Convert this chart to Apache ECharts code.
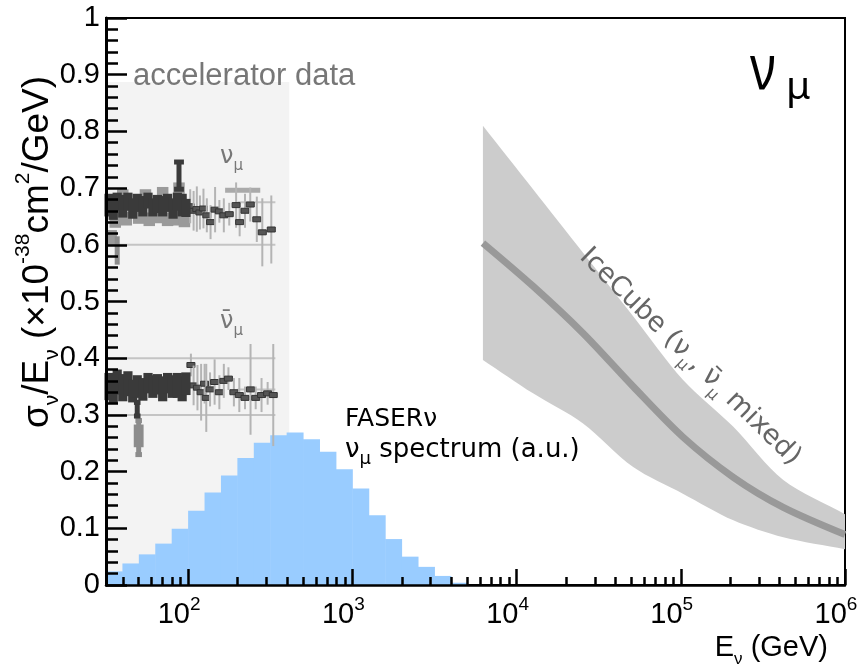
<!DOCTYPE html>
<html><head><meta charset="utf-8">
<script src="https://cdn.jsdelivr.net/npm/echarts@6/dist/echarts.min.js"></script>
<style>html,body{margin:0;padding:0;background:#fff}#c{width:863px;height:667px}</style>
</head><body><div id="c"></div>
<script>
// ---------------- data ----------------
const xMinLog = 1.5, xMaxLog = 6;            // log10(E/GeV) range
const xMajorPowers = [2, 3, 4, 5, 6];
const yMin = 0, yMax = 1, yStep = 0.1;

// FASERnu nu_mu spectrum (a.u.), bins of 0.1 in log10(E)
const faserBinLowLog = [1.5,1.6,1.7,1.8,1.9,2.0,2.1,2.2,2.3,2.4,2.5,2.6,2.7,2.8,2.9,3.0,3.1,3.2,3.3,3.4,3.5,3.6];
const faserHeights   = [0.024,0.038,0.054,0.073,0.099,0.131,0.163,0.193,0.224,0.251,0.264,0.269,0.257,0.235,0.204,0.170,0.123,0.081,0.050,0.032,0.016,0.004];

// IceCube
const icecubeE       = [6240, 12600, 25400, 51300, 103000, 209000, 421000, 1000000];
const icecubeCentral = [0.603, 0.527, 0.444, 0.350, 0.261, 0.190, 0.137, 0.089];
const icecubeUpper   = [0.810, 0.698, 0.586, 0.474, 0.362, 0.279, 0.185, 0.125];
const icecubeLower   = [0.397, 0.338, 0.285, 0.208, 0.161, 0.114, 0.084, 0.063];

// accelerator-data region
const accelRegionE = [31.6, 413];
const accelRegionTop = 0.887;

// accelerator nu_mu data  [E (GeV), sigma/E, half-size]
const nuBoxDark = [[33,0.670,0.020],[35,0.662,0.018],[37,0.676,0.016],[40,0.668,0.020],[43,0.676,0.016],[46,0.664,0.018],[49,0.674,0.016],[53,0.668,0.018],[57,0.678,0.014],[61,0.666,0.016],[65,0.672,0.016],[70,0.668,0.018],[75,0.674,0.016],[81,0.664,0.018],[86,0.676,0.016],[92,0.670,0.020],[97,0.665,0.016]];
const nuBoxGray = [[34,0.612,0.014],[36,0.652,0.022],[42,0.646,0.012],[50,0.652,0.015],[58,0.645,0.012],[66,0.650,0.012],[75,0.645,0.012],[84,0.650,0.016],[95,0.645,0.014],[40,0.690,0.008],[55,0.690,0.008],[70,0.692,0.010],[88,0.700,0.010]];
const nuBarGray = [[37,0.590,0.025]];
const nuBarDark = [[88,0.722,0.024]];
const nuPoints = [[103,0.668,0.030],[108,0.660,0.035],[113,0.663,0.040],[118,0.657,0.030],[124,0.664,0.035],[130,0.652,0.030],[137,0.640,0.030],[146,0.662,0.040],[155,0.659,0.020],[165,0.652,0.030],[178,0.654,0.020],[196,0.670,0.040],[206,0.640,0.025],[222,0.660,0.030],[239,0.671,0.030],[262,0.645,0.040],[283,0.622,0.060],[321,0.627,0.060]];
const nuHBar = [[168,275,0.696]];

// accelerator anti-nu_mu data
const anuBoxDark = [[33,0.350,0.024],[35,0.345,0.024],[37,0.358,0.022],[40,0.348,0.024],[43,0.355,0.022],[46,0.342,0.020],[49,0.350,0.020],[53,0.345,0.020],[57,0.356,0.018],[61,0.350,0.020],[65,0.354,0.018],[70,0.346,0.022],[75,0.356,0.018],[80,0.350,0.020],[86,0.352,0.022],[92,0.346,0.022],[97,0.355,0.020]];
const anuBoxGray = [[50,0.263,0.020]];
const anuBarGray = [[50,0.260,0.030]];
const anuBarDark = [[49,0.310,0.012]];
const anuPoints = [[104,0.388,0.020],[108,0.352,0.035],[114,0.348,0.040],[120,0.340,0.050],[126,0.355,0.035],[129,0.330,0.060],[136,0.345,0.030],[145,0.358,0.040],[155,0.340,0.030],[165,0.360,0.030],[176,0.364,0.020],[190,0.340,0.025],[205,0.335,0.030],[222,0.330,0.020],[240,0.345,0.080],[258,0.330,0.020],[280,0.335,0.030],[305,0.338,0.020],[330,0.335,0.090]];

// reference (average) lines [E1, E2, value]
const refLines = [[31.6,340,0.600],[200,340,0.675],[31.6,340,0.400],[31.6,340,0.300],[200,340,0.345]];

// ---------------- helpers ----------------
const L = v => Math.log10(v);
const toLog = arr => arr.map(r => [L(r[0]), r[1], r[2]]);
const minorTicks = [];
for (let d = 1; d <= 5; d++) for (let k = 2; k <= 9; k++) {
  const v = d + Math.log10(k);
  if (v > xMinLog && v < xMaxLog) minorTicks.push(v);
}
const FONT = 'Liberation Sans';

function boxRender(color, halfDec) {
  return function (params, api) {
    const x = api.value(0), v = api.value(1), e = api.value(2);
    const p1 = api.coord([x - halfDec, v + e]);
    const p2 = api.coord([x + halfDec, v - e]);
    return {type: 'rect', shape: {x: p1[0], y: p1[1], width: p2[0] - p1[0], height: p2[1] - p1[1]},
            style: {fill: color}};
  };
}
function barRender(color, halfDec, width) {
  return function (params, api) {
    const x = api.value(0), v = api.value(1), e = api.value(2);
    const t = api.coord([x, v + e]), b = api.coord([x, v - e]);
    const tl = api.coord([x - halfDec, v + e]), tr = api.coord([x + halfDec, v + e]);
    const bl = api.coord([x - halfDec, v - e]), br = api.coord([x + halfDec, v - e]);
    return {type: 'group', children: [
      {type: 'line', shape: {x1: t[0], y1: t[1], x2: b[0], y2: b[1]}, style: {stroke: color, lineWidth: width}},
      {type: 'line', shape: {x1: tl[0], y1: tl[1], x2: tr[0], y2: tr[1]}, style: {stroke: color, lineWidth: 5}},
      {type: 'line', shape: {x1: bl[0], y1: bl[1], x2: br[0], y2: br[1]}, style: {stroke: color, lineWidth: 5}}
    ]};
  };
}
function pointRender(params, api) {
  const x = api.value(0), v = api.value(1), e = api.value(2);
  const t = api.coord([x, v + e]), b = api.coord([x, v - e]), c = api.coord([x, v]);
  return {type: 'group', children: [
    {type: 'line', shape: {x1: t[0], y1: t[1], x2: b[0], y2: b[1]}, style: {stroke: '#b4b4b4', lineWidth: 2}},
    {type: 'rect', shape: {x: c[0] - 4, y: c[1] - 2.5, width: 8, height: 5}, style: {fill: '#555', stroke: '#333', lineWidth: 1}}
  ]};
}
function hlineRender(color, width) {
  return function (params, api) {
    const a = api.coord([api.value(0), api.value(2)]), b = api.coord([api.value(1), api.value(2)]);
    return {type: 'line', shape: {x1: a[0], y1: a[1], x2: b[0], y2: b[1]}, style: {stroke: color, lineWidth: width}};
  };
}
function custom(data, renderItem, z, encode) {
  return {type: 'custom', xAxisIndex: 0, yAxisIndex: 0, data: data, renderItem: renderItem, z: z,
          encode: encode || {x: 0, y: 1}, silent: true, animation: false};
}

// ---------------- series ----------------
const series = [];
series.push(custom([[L(accelRegionE[0]), L(accelRegionE[1]), accelRegionTop]], function (p, api) {
  const a = api.coord([api.value(0), api.value(2)]), b = api.coord([api.value(1), 0]);
  return {type: 'rect', shape: {x: a[0], y: a[1], width: b[0] - a[0], height: b[1] - a[1]}, style: {fill: '#f3f3f3'}};
}, 1, {x: [0, 1], y: 2}));
series.push(custom(faserBinLowLog.map((lo, i) => [lo, lo + 0.1, faserHeights[i]]), function (p, api) {
  const a = api.coord([api.value(0), api.value(2)]), b = api.coord([api.value(1), 0]);
  return {type: 'rect', shape: {x: a[0], y: a[1], width: b[0] - a[0] + 0.5, height: b[1] - a[1]}, style: {fill: '#99ccff'}};
}, 2, {x: [0, 1], y: 2}));
series.push(custom(refLines.map(r => [L(r[0]), L(r[1]), r[2]]), hlineRender('#c4c4c4', 2), 3, {x: [0, 1], y: 2}));
series.push(custom(nuHBar.map(r => [L(r[0]), L(r[1]), r[2]]), hlineRender('#aaaaaa', 5), 3, {x: [0, 1], y: 2}));
series.push(custom(toLog(nuBoxGray), boxRender('#9a9a9a', 0.035), 4));
series.push(custom(toLog(anuBoxGray), boxRender('#8c8c8c', 0.03), 4));
series.push(custom(toLog(nuBarGray), barRender('#8c8c8c', 0.0, 5), 4));
series.push(custom(toLog(anuBarGray), barRender('#8c8c8c', 0.02, 5), 4));
series.push(custom(toLog(nuPoints), pointRender, 5));
series.push(custom(toLog(anuPoints), pointRender, 5));
series.push(custom(toLog(nuBoxDark), boxRender('#3a3a3a', 0.028), 6));
series.push(custom(toLog(anuBoxDark), boxRender('#3a3a3a', 0.028), 6));
series.push(custom(toLog(nuBarDark), barRender('#3a3a3a', 0.03, 5), 6));
series.push(custom(toLog(anuBarDark), barRender('#3a3a3a', 0.02, 5), 6));
// IceCube band (smooth edges, sharp corners via duplicated corner vertices)
series.push(custom([[L(icecubeE[0]), icecubeCentral[0]]], function (p, api) {
  const up = icecubeE.map((e, i) => api.coord([L(e), icecubeUpper[i]]));
  const lo = icecubeE.map((e, i) => api.coord([L(e), icecubeLower[i]])).reverse();
  const pts = [up[0]].concat(up, [up[up.length - 1]], [lo[0]], lo, [lo[lo.length - 1]]);
  return {type: 'polygon', shape: {points: pts, smooth: 0.3}, style: {fill: '#cccccc'}};
}, 7));
series.push({type: 'line', xAxisIndex: 0, yAxisIndex: 0, z: 8, smooth: 0.3, showSymbol: false, silent: true,
  data: icecubeE.map((e, i) => [L(e), icecubeCentral[i]]),
  lineStyle: {color: '#999999', width: 7}});

// ---------------- chart ----------------
const chart = echarts.init(document.getElementById('c'));
chart.setOption({
  animation: false,
  backgroundColor: '#ffffff',
  grid: {left: 106, right: 18, top: 18, bottom: 82, show: true, borderColor: '#000', borderWidth: 2, backgroundColor: 'transparent'},
  xAxis: [{
    type: 'value', min: xMinLog, max: xMaxLog, position: 'bottom', z: 20,
    axisLine: {show: true, onZero: false, lineStyle: {color: '#000', width: 2.5}},
    axisTick: {show: true, inside: true, length: 16, customValues: xMajorPowers, lineStyle: {color: '#000', width: 2.5}},
    axisLabel: {show: true, customValues: xMajorPowers, margin: 10, padding: [0, 18, 0, 0],
      formatter: v => '{b|10}{sup|' + v + '}',
      rich: {b: {fontFamily: FONT, fontSize: 29, color: '#000', lineHeight: 40},
             sup: {fontFamily: FONT, fontSize: 19, color: '#000', lineHeight: 20, verticalAlign: 'top'}}},
    splitLine: {show: false}
  }, {
    type: 'value', min: xMinLog, max: xMaxLog, position: 'bottom', gridIndex: 0, z: 20,
    axisLine: {show: false},
    axisTick: {show: true, inside: true, length: 8, customValues: minorTicks, lineStyle: {color: '#000', width: 2.5}},
    axisLabel: {show: false}, splitLine: {show: false}
  }],
  yAxis: {
    type: 'value', min: yMin, max: yMax, interval: yStep, z: 20,
    axisLine: {show: true, onZero: false, lineStyle: {color: '#000', width: 3}},
    axisTick: {show: true, inside: true, length: 21, lineStyle: {color: '#000', width: 2.5}},
    minorTick: {show: true, splitNumber: 5, length: 12, lineStyle: {color: '#000', width: 2.5}},
    axisLabel: {fontFamily: FONT, fontSize: 29, color: '#000', margin: 6,
      formatter: v => (v === 0 ? '0' : (Math.abs(v - 1) < 1e-9 ? '1' : v.toFixed(1)))},
    splitLine: {show: false}, minorSplitLine: {show: false}
  },
  series: series,
  graphic: [
    {type: 'text', x: 38, y: 252, rotation: Math.PI / 2, z: 100,
      style: {text: '{n|σ}{sub|ν}{n|/E}{sub|ν}{n| (×10}{sup|-38}{n|cm}{sup|2}{n|/GeV)}',
        align: 'center', verticalAlign: 'middle',
        rich: {n: {fontFamily: FONT, fontSize: 37, fill: '#000', lineHeight: 50},
               sub: {fontFamily: FONT, fontSize: 21, fill: '#000', lineHeight: 21, verticalAlign: 'bottom'},
               sup: {fontFamily: FONT, fontSize: 21, fill: '#000', lineHeight: 21, verticalAlign: 'top'}}}},
    {type: 'text', x: 828, y: 648, z: 100,
      style: {text: '{n|E}{sub|ν}{n| (GeV)}', align: 'right', verticalAlign: 'middle',
        rich: {n: {fontFamily: FONT, fontSize: 29, fill: '#000', lineHeight: 40},
               sub: {fontFamily: FONT, fontSize: 17, fill: '#000', lineHeight: 17, verticalAlign: 'bottom'}}}},
    {type: 'text', x: 133, y: 76, z: 100,
      style: {text: 'accelerator data', fontFamily: FONT, fontSize: 31, fill: '#777777', align: 'left', verticalAlign: 'middle'}},
    {type: 'text', x: 220, y: 157, z: 100,
      style: {text: '{n|ν}{sub|μ}', align: 'left', verticalAlign: 'middle',
        rich: {n: {fontFamily: 'DejaVu Sans', fontSize: 24, fill: '#777', lineHeight: 34},
               sub: {fontFamily: 'DejaVu Sans', fontSize: 15, fill: '#777', lineHeight: 15, verticalAlign: 'bottom'}}}},
    {type: 'text', x: 220, y: 322, z: 100,
      style: {text: '{n|ν\u0304}{sub|μ}', align: 'left', verticalAlign: 'middle',
        rich: {n: {fontFamily: 'DejaVu Sans', fontSize: 24, fill: '#777', lineHeight: 34},
               sub: {fontFamily: 'DejaVu Sans', fontSize: 15, fill: '#777', lineHeight: 15, verticalAlign: 'bottom'}}}},
    {type: 'text', x: 345, y: 419, z: 100,
      style: {text: 'FASERν', fontFamily: 'DejaVu Sans', fontSize: 25, fill: '#000', align: 'left', verticalAlign: 'middle'}},
    {type: 'text', x: 345, y: 450, z: 100,
      style: {text: '{n|ν}{sub|μ}{n| spectrum (a.u.)}', align: 'left', verticalAlign: 'middle',
        rich: {n: {fontFamily: 'DejaVu Sans', fontSize: 26, fill: '#000', lineHeight: 36},
               sub: {fontFamily: 'DejaVu Sans', fontSize: 18, fill: '#000', lineHeight: 18, verticalAlign: 'bottom'}}}},
    {type: 'text', x: 690, y: 357, z: 100, rotation: -44.4 * Math.PI / 180,
      style: {text: '{n|IceCube (ν}{sub|μ}{n|, ν\u0304}{sub|μ}{n| mixed)}', align: 'center', verticalAlign: 'middle',
        rich: {n: {fontFamily: 'DejaVu Sans', fontSize: 27, fill: '#666', lineHeight: 38},
               sub: {fontFamily: 'DejaVu Sans', fontSize: 16, fill: '#666', lineHeight: 16, verticalAlign: 'bottom'}}}},
    {type: 'text', x: 750, y: 71, z: 100, scaleX: 0.8,
      style: {text: 'ν', fontFamily: 'Noto Sans', fontSize: 62, fill: '#000', align: 'left', verticalAlign: 'middle'}},
    {type: 'text', x: 786, y: 88, z: 100,
      style: {text: 'μ', fontFamily: 'Noto Sans', fontSize: 39, fill: '#000', align: 'left', verticalAlign: 'middle'}}
  ]
});
</script></body></html>
